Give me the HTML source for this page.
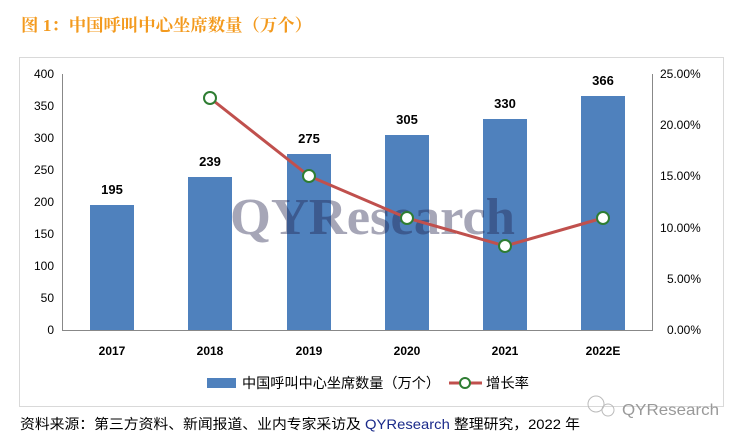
<!DOCTYPE html>
<html><head><meta charset="utf-8"><style>
body{margin:0;width:744px;height:442px;background:#fff;overflow:hidden;font-family:"Liberation Sans","Noto Sans CJK SC",sans-serif}
</style></head><body>
<svg width="744" height="442" xmlns="http://www.w3.org/2000/svg" style="position:absolute;left:0;top:0">
<text x="21" y="31" font-size="17" font-weight="bold" fill="#F39A1E" textLength="291" lengthAdjust="spacingAndGlyphs" font-family="'Liberation Serif','Noto Serif CJK SC',serif">图 1：中国呼叫中心坐席数量（万个）</text>
<rect x="19.5" y="57.5" width="704" height="349" fill="none" stroke="#d9d9d9"/>
<g font-size="12" fill="#000" text-anchor="end">
<text x="54" y="78">400</text><text x="54" y="110">350</text><text x="54" y="142">300</text><text x="54" y="174">250</text><text x="54" y="206">200</text><text x="54" y="238">150</text><text x="54" y="270">100</text><text x="54" y="302">50</text><text x="54" y="334">0</text>
</g>
<g font-size="12" fill="#000">
<text x="660" y="78">25.00%</text><text x="660" y="129">20.00%</text><text x="660" y="180">15.00%</text><text x="660" y="232">10.00%</text><text x="667" y="283">5.00%</text><text x="667" y="334">0.00%</text>
</g>
<line x1="62.5" y1="74" x2="62.5" y2="330" stroke="#888"/>
<line x1="652.5" y1="74" x2="652.5" y2="330" stroke="#888"/>
<line x1="62" y1="330.5" x2="653" y2="330.5" stroke="#888"/>
<g fill="#4F81BD">
<rect x="90" y="205" width="44" height="125"/>
<rect x="188" y="177" width="44" height="153"/>
<rect x="287" y="154" width="44" height="176"/>
<rect x="385" y="135" width="44" height="195"/>
<rect x="483" y="119" width="44" height="211"/>
<rect x="581" y="96" width="44" height="234"/>
</g>
<text x="230" y="234" font-size="52" font-weight="bold" fill="#20204a" fill-opacity="0.4" textLength="285" lengthAdjust="spacingAndGlyphs" font-family="'Liberation Serif',serif">QYResearch</text>
<g font-size="13" font-weight="bold" text-anchor="middle" fill="#000">
<text x="112" y="194">195</text><text x="210" y="166">239</text><text x="309" y="143">275</text><text x="407" y="124">305</text><text x="505" y="108">330</text><text x="603" y="85">366</text>
</g>
<polyline points="210,98 309,176 407,218 505,246 603,218" fill="none" stroke="#C0504D" stroke-width="3"/>
<g fill="#fff" stroke="#2E7D32" stroke-width="2">
<circle cx="210" cy="98" r="6"/><circle cx="309" cy="176" r="6"/><circle cx="407" cy="218" r="6"/><circle cx="505" cy="246" r="6"/><circle cx="603" cy="218" r="6"/>
</g>
<g font-size="12" font-weight="bold" text-anchor="middle" fill="#000">
<text x="112" y="355">2017</text><text x="210" y="355">2018</text><text x="309" y="355">2019</text><text x="407" y="355">2020</text><text x="505" y="355">2021</text><text x="603" y="355">2022E</text>
</g>
<rect x="207" y="378" width="29" height="10" fill="#4F81BD"/>
<text x="242" y="388" font-size="14" textLength="198" lengthAdjust="spacingAndGlyphs">中国呼叫中心坐席数量（万个）</text>
<line x1="449" y1="383" x2="482" y2="383" stroke="#C0504D" stroke-width="3"/>
<circle cx="465" cy="383" r="5" fill="#fff" stroke="#2E7D32" stroke-width="2"/>
<text x="486" y="388" font-size="14" textLength="43" lengthAdjust="spacingAndGlyphs">增长率</text>
<text x="20" y="429" font-size="14" textLength="560" lengthAdjust="spacingAndGlyphs">资料来源：第三方资料、新闻报道、业内专家采访及 <tspan fill="#1a2a8a">QYResearch</tspan> 整理研究，2022 年</text>
<circle cx="596" cy="404" r="8" fill="none" stroke="#bbb"/><circle cx="608" cy="410" r="6" fill="none" stroke="#bbb"/>
<text x="622" y="415" font-size="16" fill="#999" textLength="97" lengthAdjust="spacingAndGlyphs">QYResearch</text>
</svg>
</body></html>
